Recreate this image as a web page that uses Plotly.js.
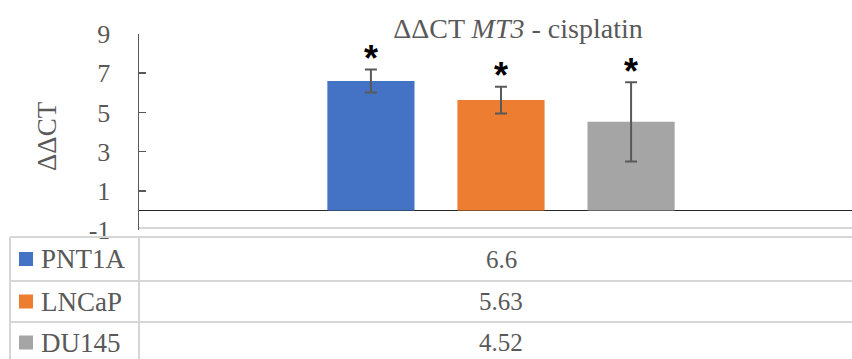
<!DOCTYPE html>
<html><head><meta charset="utf-8">
<script src="https://cdn.plot.ly/plotly-3.0.1.min.js"></script>
<style>html,body{margin:0;padding:0;background:#fff}#chart{width:852px;height:359px}</style>
</head><body><div id="chart"></div>
<script>
// ---- data ----
const category = ['ΔΔCT MT3 - cisplatin'];
const seriesNames = ['PNT1A', 'LNCaP', 'DU145'];
const values = [6.6, 5.63, 4.52];
const errors = [0.59, 0.68, 2.02];
const significance = ['*', '*', '*'];
const colors = ['#4472c4', '#ed7d31', '#a5a5a5'];
const yTicks = [-1, 1, 3, 5, 7, 9];
const yTickText = ['-1', '1', '3', '5', '7', '9'];

// ---- layout geometry (pixels) ----
const W = 852, H = 359;
const L = 139, R = 0, T = 34, B = 129;
const pw = W - L - R, ph = H - T - B;
const px = x => (x - L) / pw;
const py = y => (H - B - y) / ph;

const FAM = 'Liberation Serif';
const GREY = '#595959';

const traces = seriesNames.map((n, i) => ({
  type: 'bar', name: n, x: category, y: [values[i]],
  marker: {color: colors[i], line: {width: 0}},
  error_y: {type: 'data', array: [errors[i]], visible: true, color: GREY, thickness: 2, width: 6},
  hoverinfo: 'none'
}));

const lineC = '#d6d6d6';
const shapes = [];
const hl = (y, x0, x1) => shapes.push({type: 'line', xref: 'paper', yref: 'paper', x0: px(x0), x1: px(x1), y0: py(y), y1: py(y), line: {color: lineC, width: 2}});
const vl = (x, y0, y1) => shapes.push({type: 'line', xref: 'paper', yref: 'paper', x0: px(x), x1: px(x), y0: py(y0), y1: py(y1), line: {color: lineC, width: 2}});
hl(228, 139, 852);
const rowTops = [237, 281, 322, 363];
rowTops.slice(0, 3).forEach(y => hl(y, 10, 852));
vl(10, 237, 359);
vl(139, 237, 359);

const annotations = [];
annotations.push({xref: 'paper', yref: 'paper', x: px(47), y: py(136), text: 'ΔΔCT', textangle: -90,
  showarrow: false, font: {family: FAM, size: 27, color: GREY}, xanchor: 'center', yanchor: 'middle'});

seriesNames.forEach((n, i) => {
  const yc = (rowTops[i] + rowTops[i + 1]) / 2;
  shapes.push({type: 'rect', xref: 'paper', yref: 'paper', x0: px(19), x1: px(33), y0: py(yc - 7), y1: py(yc + 7),
    fillcolor: colors[i], line: {width: 0}});
  annotations.push({xref: 'paper', yref: 'paper', x: px(39), y: py(yc), text: n, showarrow: false,
    xanchor: 'left', yanchor: 'middle', font: {family: FAM, size: 27, color: GREY}});
  annotations.push({xref: 'x', yref: 'paper', x: category[0], y: py(yc), text: String(values[i]), showarrow: false,
    xanchor: 'center', yanchor: 'middle', font: {family: FAM, size: 25, color: GREY}});
});

const layout = {
  width: W, height: H,
  margin: {l: L, r: R, t: T, b: B, pad: 0},
  paper_bgcolor: '#fff', plot_bgcolor: '#fff',
  font: {family: FAM, color: GREY},
  showlegend: false,
  barmode: 'group', bargap: 0.461, bargroupgap: 0.33,
  title: {text: 'ΔΔCT <i>MT3</i> - cisplatin', x: 518 / W, xanchor: 'center', y: 1 - 28 / H, yanchor: 'middle',
    font: {family: FAM, size: 28, color: GREY}},
  xaxis: {range: [-0.5, 0.4848], showticklabels: false, showline: false, showgrid: false, zeroline: false, fixedrange: true},
  yaxis: {range: [-1, 9], tickvals: yTicks, ticktext: yTickText, ticks: 'inside', ticklen: 7, tickwidth: 1.5, tickcolor: GREY,
    showline: true, linecolor: GREY, linewidth: 1.5, showgrid: false,
    zeroline: true, zerolinecolor: '#262626', zerolinewidth: 1.5,
    ticklabelstandoff: 22,
    tickfont: {family: FAM, size: 26, color: GREY}},
  shapes: shapes,
  annotations: annotations
};

Plotly.newPlot('chart', traces, layout, {staticPlot: true}).then(gd => {
  const ann = layout.annotations.slice();
  gd.calcdata.forEach((cdTrace, i) => {
    const bar = cdTrace[0];
    ann.push({xref: 'x', yref: 'y', x: bar.x, y: values[i] + errors[i], text: significance[i], showarrow: false,
      xanchor: 'center', yanchor: 'middle', yshift: 11,
      font: {family: 'Liberation Sans', size: 36, color: '#000', weight: 'bold'}});
  });
  return Plotly.relayout(gd, {annotations: ann});
});
</script></body></html>
